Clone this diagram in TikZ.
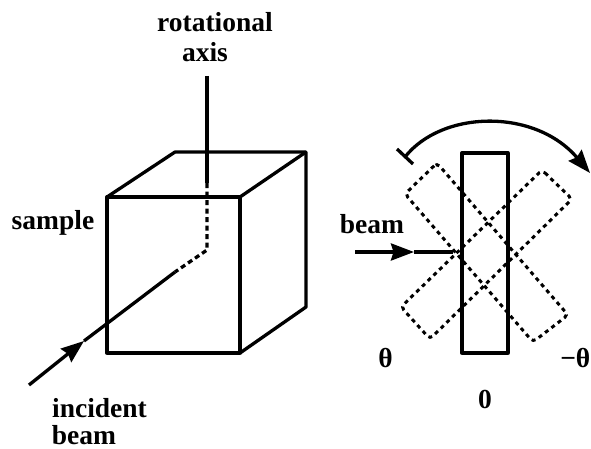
\documentclass[tikz,border=0pt]{standalone}
\usepackage{fontspec}
\setmainfont{Liberation Serif}
\usetikzlibrary{arrows.meta}
\tikzset{
  solidline/.style={line width=3.3pt, line join=round},
  dashline/.style={line width=3.3pt, dash pattern=on 5pt off 3.5pt},
  tiltbox/.style={line width=3pt, dash pattern=on 4pt off 4pt, rounded corners=4pt},
  beamtip/.style={-{Stealth[length=23pt,width=17pt,inset=2.5pt]}},
  label/.style={anchor=base, inner sep=0pt, font=\fontsize{27.5}{27.5}\selectfont\bfseries},
}
\begin{document}
\begin{tikzpicture}[x=1pt,y=-1pt]
 \useasboundingbox (0,0) rectangle (591,449);
 % cube
 \coordinate (ftl) at (107,197);
 \coordinate (ftr) at (240,197);
 \coordinate (fbl) at (107,353);
 \coordinate (fbr) at (240,353);
 \coordinate (btl) at (175,152);
 \coordinate (btr) at (306,152);
 \coordinate (bbr) at (306,307);
 \draw[solidline] (ftl)--(ftr)--(fbr)--(fbl)--cycle;
 \draw[solidline] (ftl)--(btl)--(btr)--(bbr)--(fbr);
 \draw[solidline] (ftr)--(btr);
 % axis and incident beam
 \coordinate (axtop) at (207,76);
 \coordinate (axin) at (207,183);
 \coordinate (bend) at (207,250);
 \coordinate (bmin) at (175,272);
 \coordinate (bmtip) at (84,341);
 \coordinate (bmend) at (29,385);
 \draw[solidline] (axtop)--(axin);
 \draw[dashline] (axin)--(bend)--(bmin);
 \draw[solidline] (bmin)--(bmtip);
 \draw[solidline,beamtip] (bmend)--(bmtip);
 % slab
 \coordinate (stl) at (462,153);
 \coordinate (str) at (508,153);
 \coordinate (sbr) at (508,353);
 \coordinate (sbl) at (462,353);
 \draw[solidline] (stl)--(str)--(sbr)--(sbl)--cycle;
 % turned positions
 \coordinate (at) at (437,163);
 \coordinate (al) at (405,194);
 \coordinate (ab) at (533,342);
 \coordinate (ar) at (568,315);
 \coordinate (bt) at (542,170);
 \coordinate (br) at (572,199);
 \coordinate (bb) at (430,339);
 \coordinate (bl) at (401,307);
 \draw[tiltbox] (at)--(al)--(ab)--(ar)--cycle;
 \draw[tiltbox] (bt)--(br)--(bb)--(bl)--cycle;
 % beam into slab
 \coordinate (inleft) at (355,252);
 \coordinate (intip) at (414,252);
 \coordinate (inend) at (453,252);
 \draw[solidline] (intip)--(inend);
 \draw[solidline,beamtip] (inleft)--(intip);
 % rotation arc
 \coordinate (arcst) at (405,157);
 \coordinate (arcend) at (590,173);
 \coordinate (barl) at (397,149);
 \coordinate (barr) at (413,164);
 \draw[solidline] (barl)--(barr);
 \draw[solidline,beamtip] (arcst) .. controls (442,110) and (535,108) .. (arcend);
 % labels
 \node[label] (rot) at (215,32) {rotational};
 \node[label] (axs) at (205,62) {axis};
 \node[label] (smp) at (53,229) {sample};
 \node[label] (inc) at (99.5,417) {incident};
 \node[label] (bmb) at (84,444) {beam};
 \node[label] (bmr) at (372,233) {beam};
 \node[label] (thp) at (385.5,367) {θ};
 \node[label,anchor=base east] (thn) at (590.5,367) {−θ};
 \node[label] (zer) at (485,408) {0};
\end{tikzpicture}
\end{document}
